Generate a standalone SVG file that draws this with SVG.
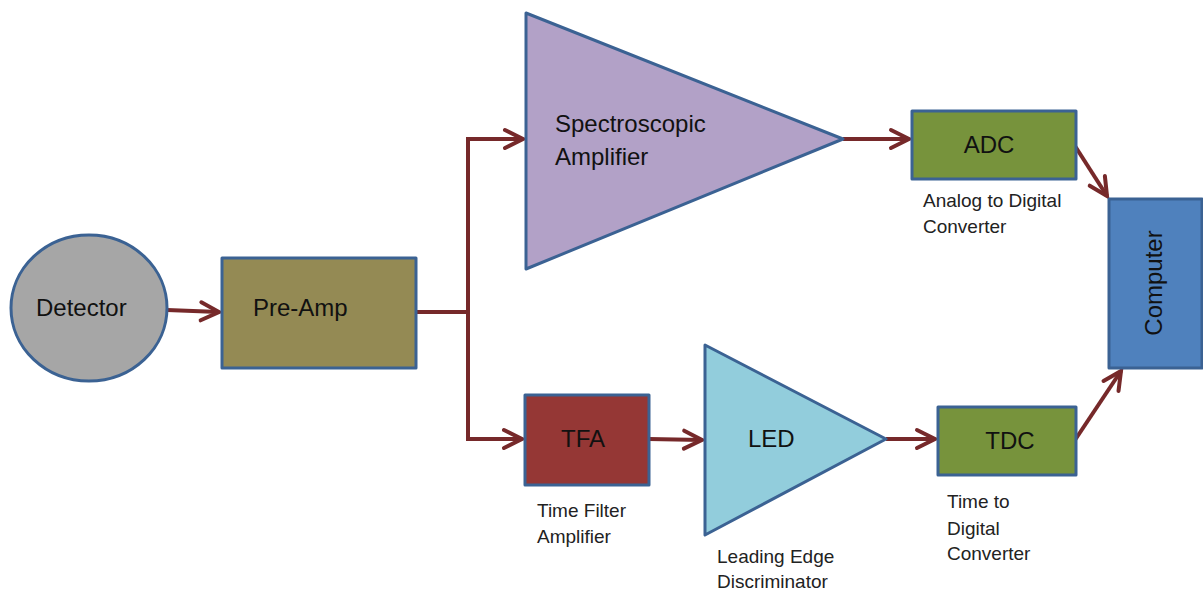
<svg xmlns="http://www.w3.org/2000/svg" width="1203" height="592" viewBox="0 0 1203 592">
<style>
.node{stroke:#3B6293;stroke-width:3;stroke-linejoin:round}
.lbl{font-family:"Liberation Sans",Arial,sans-serif;font-size:24px;fill:#111}
.sub{font-family:"Liberation Sans",Arial,sans-serif;font-size:19px;fill:#222}
.conn{fill:none;stroke:#76292A;stroke-width:4;stroke-linejoin:miter}
</style>
<defs>
<marker id="arr" markerUnits="userSpaceOnUse" viewBox="-24 -14 28 28" markerWidth="28" markerHeight="28" refX="0" refY="0" orient="auto" overflow="visible">
<path d="M-18,-9 L0,0 L-18,9" fill="none" stroke="#76292A" stroke-width="4" stroke-linecap="round" stroke-linejoin="miter"/>
</marker>
</defs>
<rect width="1203" height="592" fill="#fff"/>
<g id="connectors">
<path class="conn" d="M167,310 L219,312" marker-end="url(#arr)"/>
<path class="conn" d="M416,312 L468,312"/>
<path class="conn" d="M468,312 L468,139 L523,139" marker-end="url(#arr)"/>
<path class="conn" d="M468,312 L468,439 L522,439" marker-end="url(#arr)"/>
<path class="conn" d="M843,139 L909,139" marker-end="url(#arr)"/>
<path class="conn" d="M1075,146 L1107,196" marker-end="url(#arr)"/>
<path class="conn" d="M649,439 L702,440" marker-end="url(#arr)"/>
<path class="conn" d="M886,439 L935,439" marker-end="url(#arr)"/>
<path class="conn" d="M1075,440 L1121,371" marker-end="url(#arr)"/>
</g>
<g id="detector">
<ellipse class="node" cx="89" cy="308" rx="78" ry="73" fill="#A6A6A6"/>
<text class="lbl" x="36" y="316">Detector</text>
</g>
<g id="preamp">
<rect class="node" x="222" y="258" width="194" height="110" fill="#948A54"/>
<text class="lbl" x="253" y="316">Pre-Amp</text>
</g>
<g id="spectroscopic">
<polygon class="node" points="526,13 843,139 526,269" fill="#B2A1C7"/>
<text class="lbl" x="555" y="132">Spectroscopic</text>
<text class="lbl" x="555" y="165">Amplifier</text>
</g>
<g id="adc">
<rect class="node" x="912" y="111" width="164" height="68" fill="#77933C"/>
<text class="lbl" x="989" y="153" text-anchor="middle">ADC</text>
<text class="sub" x="923" y="207">Analog to Digital</text>
<text class="sub" x="923" y="233">Converter</text>
</g>
<g id="computer">
<rect class="node" x="1109" y="199" width="93" height="169" fill="#4F81BD"/>
<text class="lbl" x="0" y="0" text-anchor="middle" transform="translate(1162,283) rotate(-90)">Computer</text>
</g>
<g id="tfa">
<rect class="node" x="525" y="395" width="124" height="90" fill="#953735"/>
<text class="lbl" x="583" y="447" text-anchor="middle">TFA</text>
<text class="sub" x="537" y="517">Time Filter</text>
<text class="sub" x="537" y="543">Amplifier</text>
</g>
<g id="led">
<polygon class="node" points="705,345 886,439 705,535" fill="#92CDDC"/>
<text class="lbl" x="748" y="447">LED</text>
<text class="sub" x="717" y="563">Leading Edge</text>
<text class="sub" x="717" y="588">Discriminator</text>
</g>
<g id="tdc">
<rect class="node" x="938" y="407" width="138" height="68" fill="#77933C"/>
<text class="lbl" x="1010" y="449" text-anchor="middle">TDC</text>
<text class="sub" x="947" y="508">Time to</text>
<text class="sub" x="947" y="535">Digital</text>
<text class="sub" x="947" y="560">Converter</text>
</g>
</svg>
